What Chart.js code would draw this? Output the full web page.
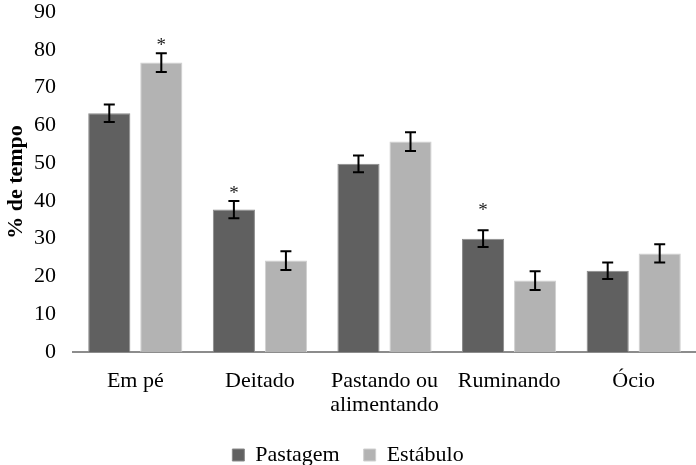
<!DOCTYPE html>
<html>
<head>
<meta charset="utf-8">
<script src="https://cdn.jsdelivr.net/npm/chart.js@4"></script>
<style>
  html, body { margin: 0; padding: 0; background: #fff; }
  #wrap { width: 696px; height: 465px; }
</style>
</head>
<body>
<div id="wrap"><canvas id="chart"></canvas></div>
<script>
var categories = ['Em pé', 'Deitado', ['Pastando ou', 'alimentando'], 'Ruminando', 'Ócio'];
var pastagem = [63.2, 37.7, 49.8, 30.0, 21.5];
var estabulo = [76.6, 24.2, 55.7, 18.9, 26.1];
var errPastagem = [2.3, 2.3, 2.2, 2.2, 2.2];
var errEstabulo = [2.5, 2.5, 2.5, 2.5, 2.4];
// asterisk positions (value units), null = none
var starPastagem = [null, 42.5, null, 38.2, null];
var starEstabulo = [81.8, null, null, null, null];

var FONT = "'Liberation Serif', 'Times New Roman', serif";

var errorBars = {
    id: 'errorBars',
    afterDatasetsDraw: function(chart) {
        var ctx = chart.ctx;
        var y = chart.scales.y;
        chart.data.datasets.forEach(function(ds, i) {
            var meta = chart.getDatasetMeta(i);
            meta.data.forEach(function(bar, j) {
                var v = ds.data[j], e = ds.errors[j];
                var top = y.getPixelForValue(v + e), bot = y.getPixelForValue(v - e);
                ctx.save();
                ctx.strokeStyle = '#000';
                ctx.lineWidth = 2;
                ctx.beginPath();
                ctx.moveTo(bar.x, top); ctx.lineTo(bar.x, bot);
                ctx.moveTo(bar.x - 5.5, top); ctx.lineTo(bar.x + 5.5, top);
                ctx.moveTo(bar.x - 5.5, bot); ctx.lineTo(bar.x + 5.5, bot);
                ctx.stroke();
                if (ds.stars[j] != null) {
                    ctx.fillStyle = '#222';
                    ctx.font = '19px ' + FONT;
                    ctx.textAlign = 'center';
                    ctx.textBaseline = 'middle';
                    ctx.fillText('*', bar.x, y.getPixelForValue(ds.stars[j]) + 3);
                }
                ctx.restore();
            });
        });
    }
};

var ctx = document.getElementById('chart').getContext('2d');
var myChart = new Chart(ctx, {
    type: 'bar',
    data: {
        labels: categories,
        datasets: [{
            label: 'Pastagem',
            data: pastagem,
            errors: errPastagem,
            stars: starPastagem,
            backgroundColor: '#606060',
            borderColor: '#8a8a8a',
            borderWidth: 1,
            barPercentage: 0.81,
            categoryPercentage: 0.835
        }, {
            label: 'Estábulo',
            data: estabulo,
            errors: errEstabulo,
            stars: starEstabulo,
            backgroundColor: '#b3b3b3',
            borderColor: '#d0d0d0',
            borderWidth: 1,
            barPercentage: 0.81,
            categoryPercentage: 0.835
        }]
    },
    options: {
        responsive: true,
        maintainAspectRatio: false,
        animation: false,
        layout: { padding: { top: 0, right: 0, left: 0, bottom: -11 } },
        scales: {
            x: {
                grid: { display: false, drawTicks: false },
                border: { display: true, color: '#8c8c8c', width: 2 },
                ticks: { color: '#000', font: { family: FONT, size: 22, lineHeight: 1.1 }, padding: 17, maxRotation: 0 },
                afterFit: function(scale) { scale.height = 68; }
            },
            y: {
                min: 0,
                max: 90,
                grid: { display: false, drawTicks: false },
                border: { display: false },
                ticks: { stepSize: 10, color: '#000', font: { family: FONT, size: 22 }, padding: 17 },
                title: { display: true, text: '% de tempo', color: '#000', font: { family: FONT, size: 22, weight: 'bold' }, padding: { top: 3, bottom: 0 } },
                afterFit: function(scale) {
                    scale.width = 73;
                    scale.paddingTop = 12;
                    scale.paddingBottom = 0;
                }
            }
        },
        plugins: {
            legend: {
                position: 'bottom',
                labels: { color: '#000', font: { family: FONT, size: 22 }, boxWidth: 12, boxHeight: 12, padding: 24 }
            },
            tooltip: { enabled: false }
        }
    },
    plugins: [errorBars]
});
</script>
</body>
</html>
